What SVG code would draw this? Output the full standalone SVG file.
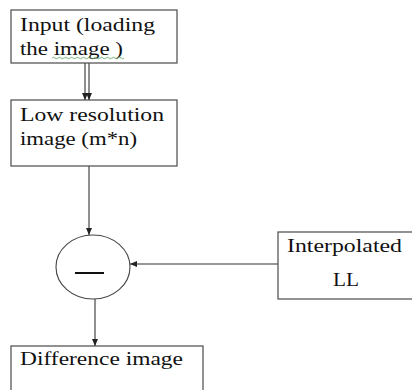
<svg xmlns="http://www.w3.org/2000/svg" width="412" height="390" viewBox="0 0 412 390">
<style>
.box{fill:#fff;stroke:#4a4a4a;stroke-width:1.2}
.t{font-family:'Liberation Serif','DejaVu Serif',serif;font-size:18px;fill:#111}
.c{stroke:#333;stroke-width:1.1;fill:none}
</style>
<defs>
<marker id="ah" markerWidth="8" markerHeight="8" refX="7" refY="4" orient="auto" markerUnits="userSpaceOnUse">
<path d="M0,1 L7,4 L0,7 Z" fill="#222"/>
</marker>
</defs>
<rect width="412" height="390" fill="#fff"/>
<g id="connectors">
<line class="c" x1="85" y1="63" x2="85" y2="100" marker-end="url(#ah)"/>
<line class="c" x1="89" y1="63" x2="89" y2="100" marker-end="url(#ah)"/>
<line class="c" x1="89" y1="166" x2="89" y2="235" marker-end="url(#ah)"/>
<line class="c" x1="278" y1="264" x2="130" y2="264" marker-end="url(#ah)"/>
<line class="c" x1="95" y1="299" x2="95" y2="346" marker-end="url(#ah)"/>
</g>
<g id="input">
<rect class="box" x="11" y="10" width="166" height="53"/>
<text class="t" x="20" y="31" textLength="135" lengthAdjust="spacingAndGlyphs">Input (loading</text>
<text class="t" x="20" y="55" textLength="103" lengthAdjust="spacingAndGlyphs">the image )</text>
<path d="M52,58 q1.5,-1.5 3,0 t3,0 t3,0 t3,0 t3,0 t3,0 t3,0 t3,0 t3,0 t3,0 t3,0 t3,0 t3,0 t3,0 t3,0 t3,0 t3,0 t3,0 t3,0 t3,0 t3,0 t3,0 t3,0 t3,0" fill="none" stroke="#5aa05a" stroke-width="0.8"/>
</g>
<g id="lowres">
<rect class="box" x="11" y="100" width="166" height="66"/>
<text class="t" x="20" y="121" textLength="144" lengthAdjust="spacingAndGlyphs">Low resolution</text>
<text class="t" x="20" y="145" textLength="117" lengthAdjust="spacingAndGlyphs">image (m*n)</text>
</g>
<g id="subtract">
<ellipse cx="93" cy="267" rx="37" ry="32" fill="#fff" stroke="#444" stroke-width="1.1"/>
<line x1="75" y1="273" x2="104" y2="273" stroke="#111" stroke-width="2"/>
</g>
<g id="interpolated">
<rect class="box" x="278" y="232" width="140" height="67"/>
<text class="t" x="287" y="252" textLength="115" lengthAdjust="spacingAndGlyphs">Interpolated</text>
<text class="t" x="333" y="286" textLength="26" lengthAdjust="spacingAndGlyphs">LL</text>
</g>
<g id="difference">
<rect class="box" x="11" y="346" width="192" height="50"/>
<text class="t" x="20" y="365" textLength="163" lengthAdjust="spacingAndGlyphs">Difference image</text>
</g>
</svg>
